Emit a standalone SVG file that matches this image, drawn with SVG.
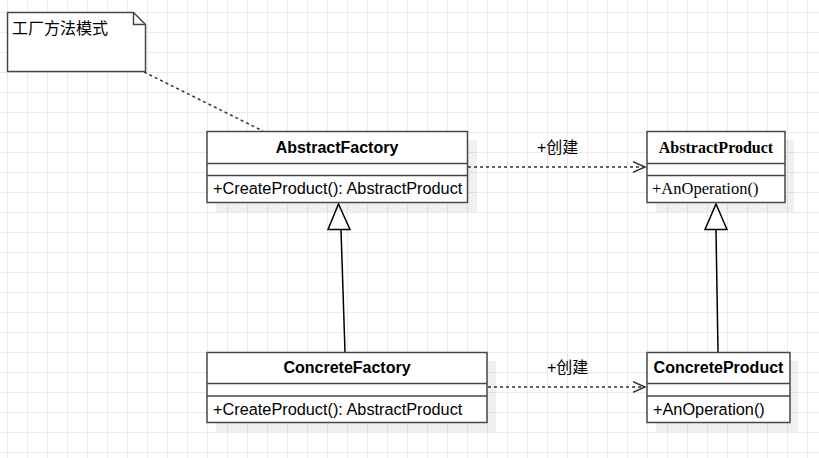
<svg xmlns="http://www.w3.org/2000/svg" width="819" height="458" viewBox="0 0 819 458">
<defs>
<pattern id="grid" x="7" y="12" width="20" height="20" patternUnits="userSpaceOnUse">
<path d="M0.5 0 V20 M0 0.5 H20" fill="none" stroke="#ebebeb" stroke-width="1"/>
</pattern>
<marker id="open" markerWidth="14" markerHeight="12" refX="12.5" refY="6" orient="auto" markerUnits="userSpaceOnUse">
<path d="M0 0.5 L12.5 6 L0 11.5" fill="none" stroke="#333" stroke-width="1.5"/>
</marker>
</defs>
<style>
.box{fill:#fff;stroke:#474747;stroke-width:1.5}
.sh{fill:#000;fill-opacity:0.06}
.sep{stroke:#474747;stroke-width:1.5}
.t{font-family:"Liberation Sans",Arial,sans-serif;font-size:16.3px;fill:#000}
.tb{font-family:"Liberation Sans",Arial,sans-serif;font-size:16px;font-weight:bold;fill:#000}
.s{font-family:"Liberation Serif","Times New Roman",serif;font-size:16.5px;fill:#000}
.sb{font-family:"Liberation Serif","Times New Roman",serif;font-size:16px;font-weight:bold;fill:#000}
.cjk{font-family:"Liberation Sans","Noto Sans CJK SC",sans-serif;font-size:16px;fill:#000}
.dash{fill:none;stroke:#333;stroke-width:1.5;stroke-dasharray:3 3}
.gen{fill:none;stroke:#000;stroke-width:1.5}
.tri{fill:#fff;stroke:#000;stroke-width:1.5;stroke-linejoin:miter}
</style>
<rect width="819" height="458" fill="#fff"/>
<rect width="819" height="458" fill="url(#grid)"/>

<g id="connectors">
<path class="dash" d="M144 72 L263 131"/>
<path class="dash" d="M468 167 L645 167" marker-end="url(#open)"/>
<text class="cjk" x="537" y="153">+创建</text>
<path class="dash" d="M488 387 L645 387" marker-end="url(#open)"/>
<text class="cjk" x="547" y="373">+创建</text>
<path class="gen" d="M345 352 L341 229.5"/>
<polygon class="tri" points="338.5,204 350,229.5 328,229.5"/>
<path class="gen" d="M718 352 L716 229.5"/>
<polygon class="tri" points="716,204 727,229.5 705,229.5"/>
</g>

<g id="note">
<path d="M7.5 12.5 H133.5 L145.5 24.5 V71.5 H7.5 Z" fill="#fff" stroke="#474747" stroke-width="1.5"/>
<path d="M133.5 12.5 V24.5 H145.5" fill="none" stroke="#474747" stroke-width="1.5"/>
<text class="cjk" x="12" y="34">工厂方法模式</text>
</g>

<g id="AbstractFactory">
<rect class="sh" x="216" y="140" width="261" height="72"/>
<rect class="box" x="207" y="131.5" width="260.5" height="71"/>
<path class="sep" d="M207 163.5 H467.5 M207 175.5 H467.5"/>
<text class="tb" x="337" y="153" text-anchor="middle">AbstractFactory</text>
<text class="t" x="213" y="194">+CreateProduct(): AbstractProduct</text>
</g>

<g id="AbstractProduct">
<rect class="sh" x="656" y="140" width="138" height="72"/>
<rect class="box" x="647" y="131.5" width="138" height="71"/>
<path class="sep" d="M647 163.5 H785 M647 175.5 H785"/>
<text class="sb" x="716" y="153" text-anchor="middle">AbstractProduct</text>
<text class="s" x="652" y="194">+AnOperation()</text>
</g>

<g id="ConcreteFactory">
<rect class="sh" x="216" y="361" width="280" height="71"/>
<rect class="box" x="207" y="352.5" width="280" height="70"/>
<path class="sep" d="M207 383.5 H487 M207 396 H487"/>
<text class="tb" x="347" y="373" text-anchor="middle">ConcreteFactory</text>
<text class="t" x="213" y="415">+CreateProduct(): AbstractProduct</text>
</g>

<g id="ConcreteProduct">
<rect class="sh" x="656" y="361" width="142" height="71"/>
<rect class="box" x="647" y="352.5" width="143" height="70"/>
<path class="sep" d="M647 383.5 H790 M647 396 H790"/>
<text class="tb" x="718.5" y="373" text-anchor="middle">ConcreteProduct</text>
<text class="t" x="653" y="415">+AnOperation()</text>
</g>
</svg>
